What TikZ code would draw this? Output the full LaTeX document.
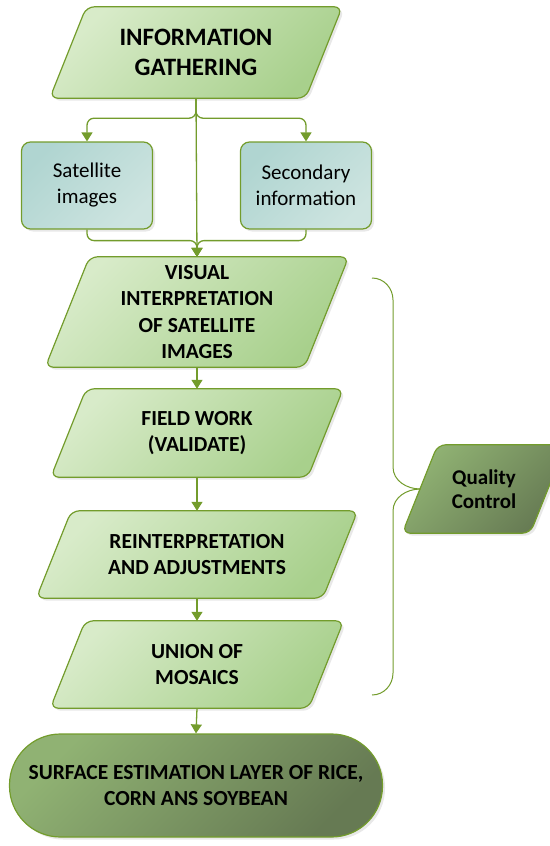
\documentclass[tikz,border=0pt]{standalone}
\usepackage{fontspec}
\setmainfont{Carlito}
\usetikzlibrary{arrows.meta,shadows,calc,backgrounds}

\definecolor{edgegreen}{HTML}{739C2C}
\definecolor{lgtop}{HTML}{D8EBC9}
\definecolor{lgbot}{HTML}{A8D08C}
\definecolor{tealtop}{HTML}{B0D5D1}
\definecolor{tealbot}{HTML}{CDE4E0}
\definecolor{dgtop}{HTML}{90B273}
\definecolor{dgbot}{HTML}{667A53}

\begin{document}
\begin{tikzpicture}[x=1pt,y=-1pt,
    link/.style={draw=edgegreen,line width=1.3pt},
    arr/.style={link,-{Triangle[width=11pt,length=9pt]}},
    shade45/.style={left color=#1top,right color=#1bot,shading angle=45},
    shadowed/.style={drop shadow={shadow xshift=2.5pt,shadow yshift=-2.5pt,opacity=.18}},
    outline/.style={draw=edgegreen,line width=1.2pt},
    para/.style={rectangle,align=center,inner sep=0pt,
      font=\bfseries\fontsize{21.5}{26.5}\selectfont},
    parashape/.style={outline,rounded corners=8pt,shade45=#1,shadowed},
    infobox/.style={rectangle,outline,rounded corners=9pt,
      shade45=teal,shadowed,align=center,minimum width=131pt,minimum height=87pt,
      font=\fontsize{21}{26}\selectfont}]
    \useasboundingbox (0,0) rectangle (549,846);

    \coordinate (info) at (196,52.5);
    \coordinate (sat) at (87,185.5);
    \coordinate (sec) at (306,185.5);
    \coordinate (vis) at (197,312);
    \coordinate (field) at (197,433);
    \coordinate (reint) at (197,554.5);
    \coordinate (union) at (197,664.5);
    \coordinate (surf) at (196,785.5);
    \coordinate (qc) at (484,489);

    \node (INFO) [para,minimum width=292pt,minimum height=91pt,
      font=\bfseries\fontsize{25}{30}\selectfont] at (info) {INFORMATION\\GATHERING};
    \node (SAT) [infobox] at (sat) {Satellite\\images};
    \node (SEC) [infobox] at (sec) {Secondary\\information};
    \node (VIS) [para,minimum width=303pt,minimum height=110pt] at (vis)
      {VISUAL\\INTERPRETATION\\OF SATELLITE\\IMAGES};
    \node (FIELD) [para,minimum width=292pt,minimum height=88pt] at (field)
      {FIELD WORK\\(VALIDATE)};
    \node (REINT) [para,minimum width=321pt,minimum height=87pt] at (reint)
      {REINTERPRETATION\\AND ADJUSTMENTS};
    \node (UNION) [para,minimum width=293pt,minimum height=87pt] at (union)
      {UNION OF\\MOSAICS};
    \node (SURF) [rectangle,rounded corners=51pt,outline,shade45=dg,shadowed,
      align=center,minimum width=373pt,minimum height=103pt,
      font=\bfseries\fontsize{21.5}{25.5}\selectfont] at (surf)
      {SURFACE ESTIMATION LAYER OF RICE,\\CORN ANS SOYBEAN};
    \node (QC) [para,minimum width=163pt,minimum height=88pt,
      font=\bfseries\fontsize{21}{24}\selectfont] at (qc) {Quality\\Control};

    \begin{scope}[on background layer]
      \foreach \nd/\col in {INFO/lg,VIS/lg,FIELD/lg,REINT/lg,UNION/lg,QC/dg}{
        \path[parashape=\col] let \p1=(\nd.north west), \p2=(\nd.south east),
          \n1={0.4*abs(\y1-\y2)} in
          (\x1,\y2) -- (\x1+\n1,\y1) -- (\x2,\y1) -- (\x2-\n1,\y2) -- cycle;
      }
    \end{scope}

    \draw[arr] (INFO.south) -- (VIS.north);
    \draw[arr,rounded corners=7pt] (INFO.south) -- ++(0,20) -| (SAT.north);
    \draw[arr,rounded corners=7pt] (INFO.south) -- ++(0,20) -| (SEC.north);
    \draw[arr,rounded corners=7pt] (SAT.south) -- ++(0,11) -| (VIS.north);
    \draw[arr,rounded corners=7pt] (SEC.south) -- ++(0,11) -| (VIS.north);
    \draw[arr] (VIS.south) -- (FIELD.north);
    \draw[arr] (FIELD.south) -- (REINT.north);
    \draw[arr] (REINT.south) -- (UNION.north);
    \draw[arr] (UNION.south) -- (SURF.north);

    \coordinate (tip) at ($(QC.west)+(18,0)$);
    \draw[link,line width=1pt] (372,278) to[out=0,in=90] (393,300) -- (393,467)
      to[out=-90,in=180] (tip);
    \draw[link,line width=1pt] (tip) to[out=180,in=90] (393,511) -- (393,673)
      to[out=-90,in=0] (372,695);

  \end{tikzpicture}
\end{document}
